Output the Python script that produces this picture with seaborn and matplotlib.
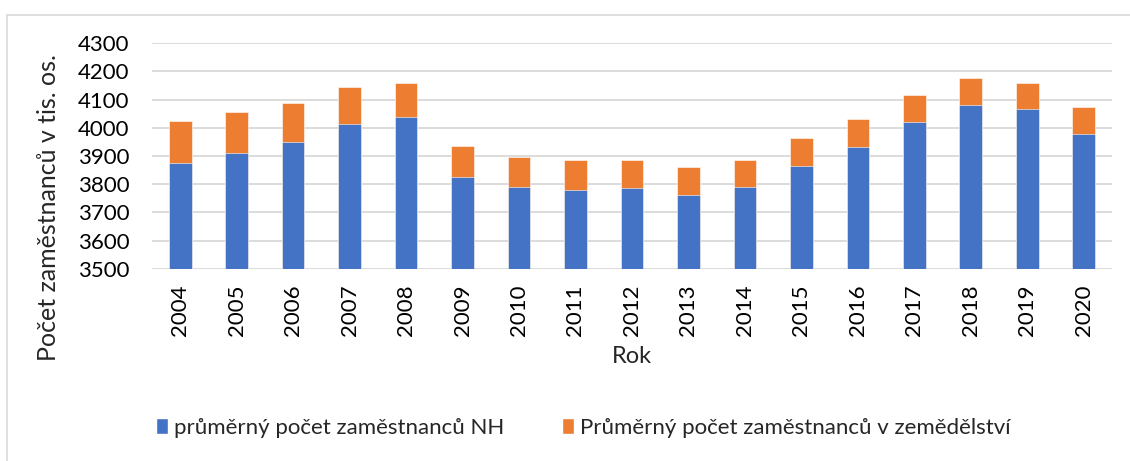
import matplotlib
matplotlib.use("Agg")
import matplotlib.pyplot as plt
import seaborn as sns
import numpy as np
import pandas as pd
from matplotlib.lines import Line2D
from matplotlib.patches import Patch

years = ["2004", "2005", "2006", "2007", "2008", "2009", "2010", "2011", "2012",
         "2013", "2014", "2015", "2016", "2017", "2018", "2019", "2020"]
nh = [3875, 3912, 3951, 4013, 4037, 3824, 3791, 3781, 3785,
      3763, 3789, 3866, 3932, 4019, 4079, 4066, 3979]
agri = [149, 144, 137, 131, 121, 110, 105, 104, 102,
        99, 97, 98, 98, 98, 97, 93, 95]

label_nh = "průměrný počet zaměstnanců NH"
label_agri = "Průměrný počet zaměstnanců v zemědělství"
blue = "#4472c4"
orange = "#ed7d31"

sns.set_theme(style="white")
plt.rcParams['font.family'] = ['Lato', 'DejaVu Sans']

df = pd.DataFrame({"Rok": years, "NH": nh,
                   "Total": [a + b for a, b in zip(nh, agri)]})

fig = plt.figure(figsize=(11.3, 4.61), dpi=100)
ax = fig.add_axes([0.1345, 0.4165, 0.8495, 0.4902])

sns.barplot(data=df, x="Rok", y="Total", color=orange, width=0.4,
            saturation=1, ax=ax, edgecolor="white", linewidth=0.4, zorder=3)
sns.barplot(data=df, x="Rok", y="NH", color=blue, width=0.4,
            saturation=1, ax=ax, edgecolor="white", linewidth=0.4, zorder=3)

ax.set_ylim(3500, 4300)
ax.set_yticks(np.arange(3500, 4301, 100))
ax.set_xlim(-0.5, len(years) - 0.5)
ax.yaxis.grid(True, color="#d9d9d9", linewidth=1.3, zorder=0)
ax.set_axisbelow(True)
for s in ax.spines.values():
    s.set_visible(False)
ax.tick_params(axis="both", length=0, labelsize=16, colors="#000000")
ax.tick_params(axis="y", pad=16)
ax.tick_params(axis="x", pad=11)
plt.setp(ax.get_xticklabels(), rotation=90)
ax.set_xlabel("Rok", fontsize=17, labelpad=7)
ax.set_ylabel("Počet zaměstnanců v tis. os.", fontsize=18)
ax.yaxis.set_label_coords(-0.096, 0.274)

handles = [Patch(facecolor=blue, label=label_nh),
           Patch(facecolor=orange, label=label_agri)]
fig.legend(handles=handles, loc="center", bbox_to_anchor=(0.516, 0.072),
           ncol=2, frameon=False, fontsize=16, handlelength=0.55,
           handleheight=0.7, handletextpad=0.25, columnspacing=2.6)

# chart border (top and left visible)
fig.add_artist(Line2D([7 / 1130, 7 / 1130], [0, 1 - 15 / 461],
                      transform=fig.transFigure, color="#d9d9d9", lw=1.2))
fig.add_artist(Line2D([7 / 1130, 1], [1 - 15 / 461, 1 - 15 / 461],
                      transform=fig.transFigure, color="#d9d9d9", lw=1.2))

fig.savefig("out.png", dpi=100)
